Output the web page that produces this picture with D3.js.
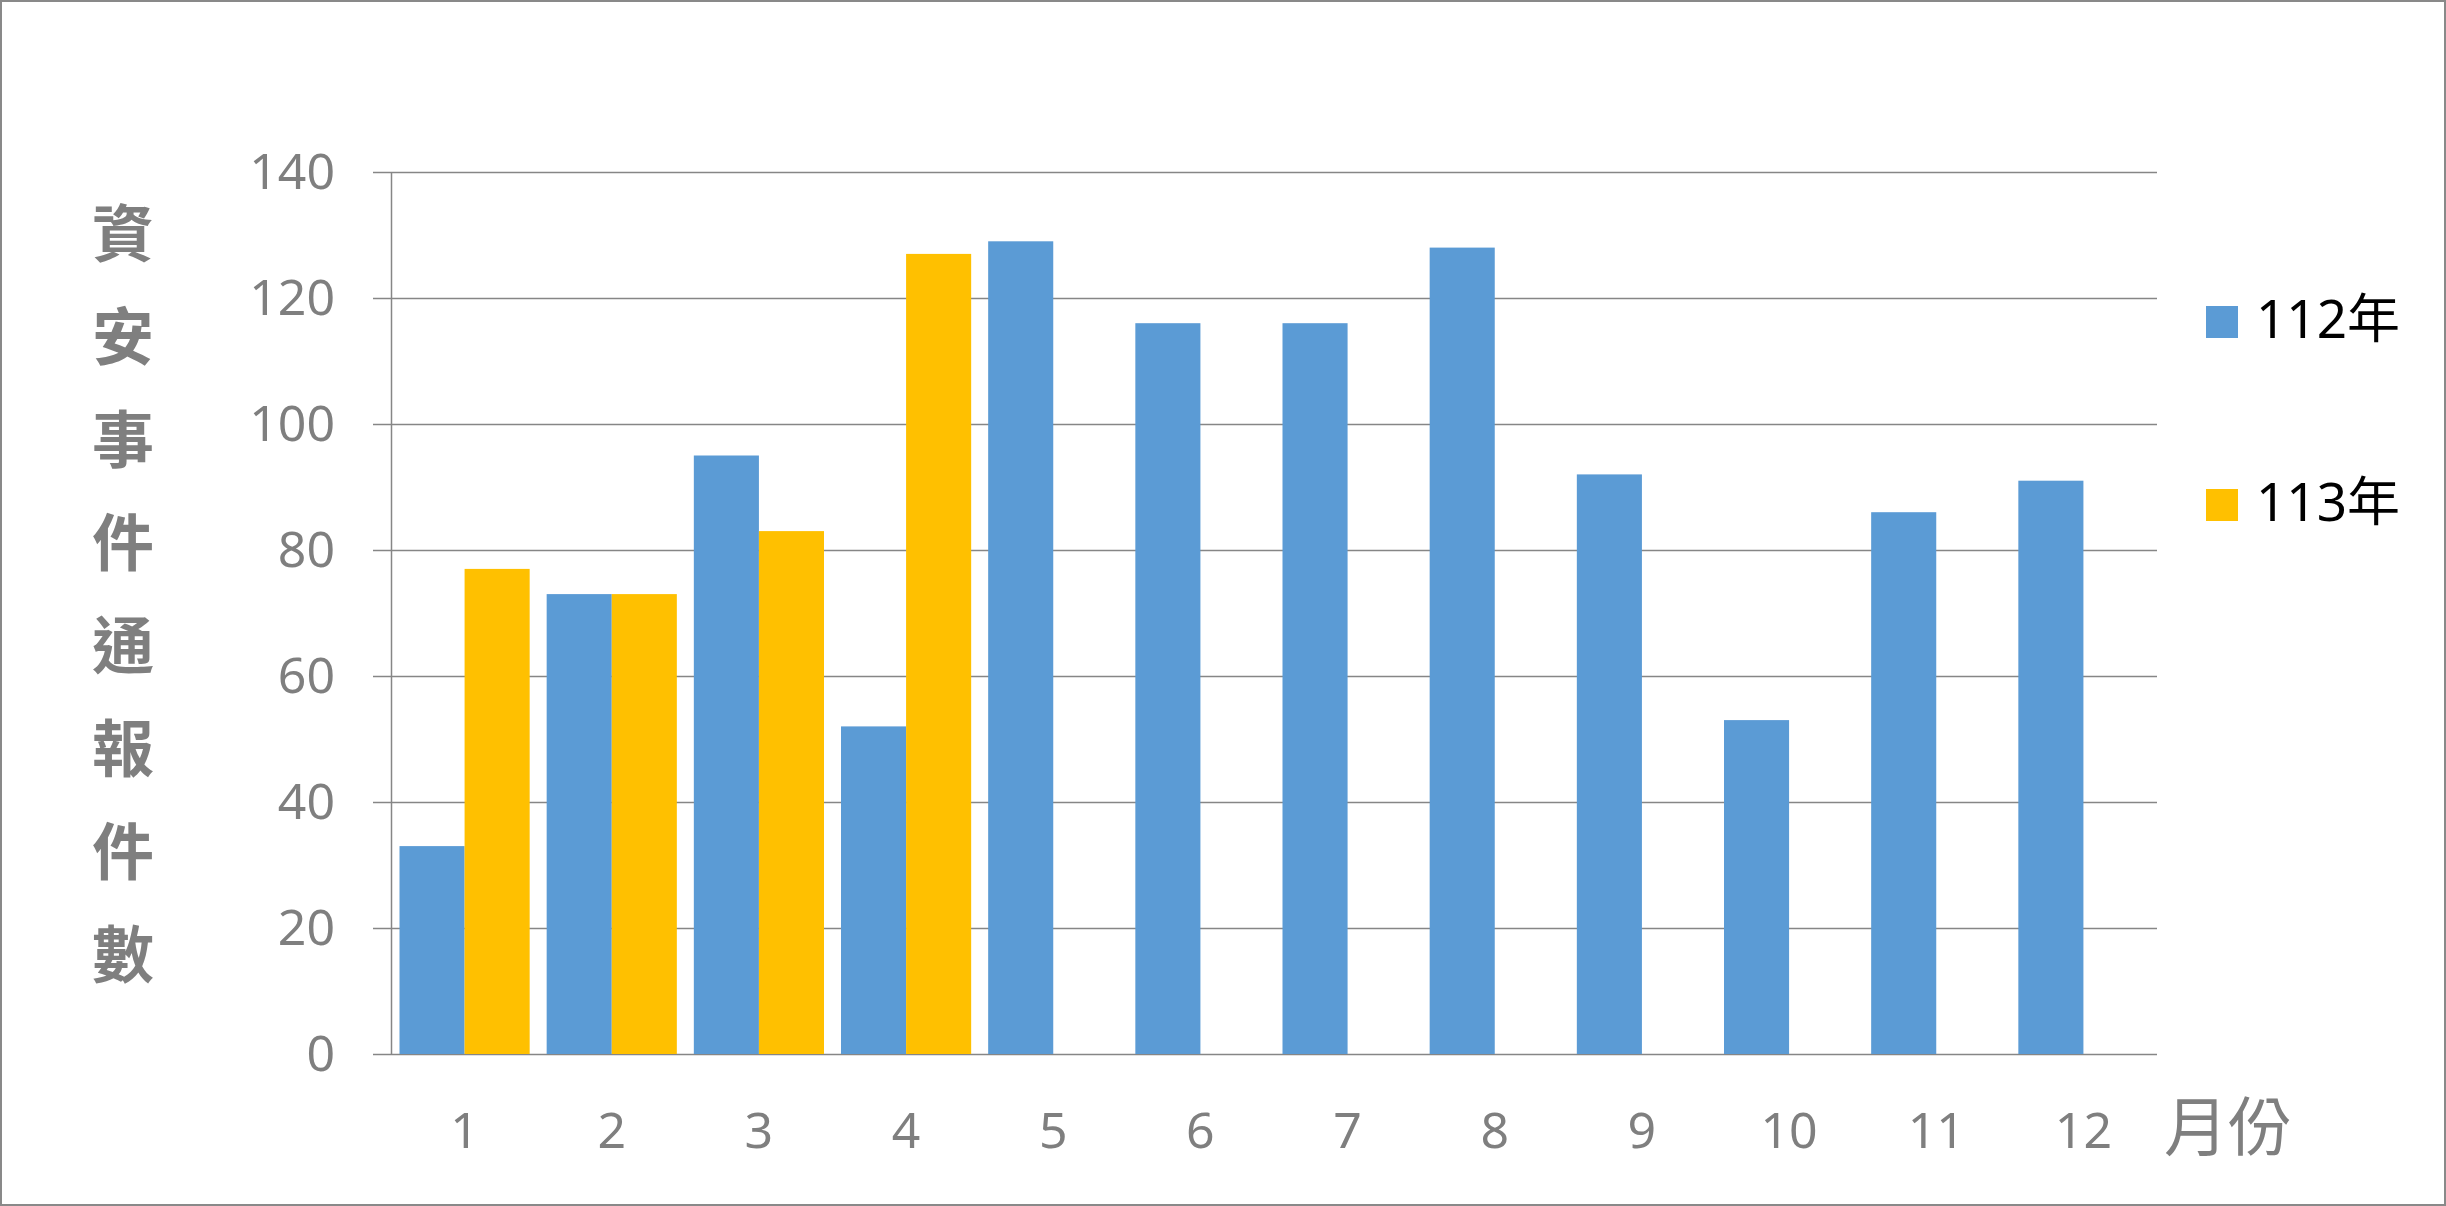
<!DOCTYPE html>
<html>
<head>
<meta charset="utf-8">
<script src="https://cdn.jsdelivr.net/npm/d3@7"></script>
<style>
  html, body { margin: 0; padding: 0; background: #fff; }
  svg { display: block; }
</style>
</head>
<body>
<script>
// ---- data ----
const months = ["1","2","3","4","5","6","7","8","9","10","11","12"];
const seriesNames = ["112年","113年"];
const values112 = [33, 73, 95, 52, 129, 116, 116, 128, 92, 53, 86, 91];
const values113 = [77, 73, 83, 127, null, null, null, null, null, null, null, null];
const yTicks = [0, 20, 40, 60, 80, 100, 120, 140];
const yTitle = "資安事件通報件數";
const xTitle = "月份";
const colors = ["#5B9BD5", "#FFC000"];

(function () {
const W = 2446, H = 1206;
const pLeft = 391, pRight = 2157, pTop = 172, pBottom = 1054;
const gray = "#7F7F7F";
const numFont = "'Noto Sans', 'Liberation Sans', sans-serif";
const cjkFont = "'Noto Sans CJK TC', 'Noto Sans CJK SC', sans-serif";

const svg = d3.select("body").append("svg").attr("width", W).attr("height", H);
svg.append("rect").attr("x", 1).attr("y", 1).attr("width", W - 2).attr("height", H - 2)
  .attr("fill", "#fff").attr("stroke", "#898989").attr("stroke-width", 2);

const y = d3.scaleLinear().domain([0, 140]).range([pBottom, pTop]);
const x0 = d3.scaleBand().domain(months).range([pLeft, pRight]).paddingInner(0.1155).paddingOuter(0.05775);
const x1 = d3.scaleBand().domain(seriesNames).range([0, x0.bandwidth()]);

// gridlines
svg.append("g").selectAll("line").data(yTicks).join("line")
  .attr("x1", pLeft).attr("x2", pRight)
  .attr("y1", d => y(d) + 0.5).attr("y2", d => y(d) + 0.5)
  .attr("stroke", "#868686").attr("stroke-width", 1.5);

// bars
const rows = months.map((m, i) => ({ m, vals: [values112[i], values113[i]] }));
const grp = svg.append("g").selectAll("g").data(rows).join("g")
  .attr("transform", d => `translate(${x0(d.m)},0)`);
grp.selectAll("rect").data(d => d.vals.map((v, j) => ({ v, s: seriesNames[j], j })).filter(e => e.v != null))
  .join("rect")
  .attr("x", e => x1(e.s)).attr("width", x1.bandwidth())
  .attr("y", e => y(e.v)).attr("height", e => y(0) - y(e.v))
  .attr("fill", e => colors[e.j]);

// y axis
const yAxis = svg.append("g").attr("transform", `translate(${pLeft},0)`)
  .call(d3.axisLeft(y).tickValues(yTicks).tickSizeInner(18).tickSizeOuter(0).tickPadding(38));
yAxis.select(".domain").attr("stroke", "#868686").attr("stroke-width", 1.5);
yAxis.selectAll(".tick line").attr("stroke", "#868686").attr("stroke-width", 1.5);
yAxis.selectAll(".tick text").attr("fill", gray).style("font-family", numFont).style("font-size", "50px");

// x axis
const xAxis = svg.append("g").attr("transform", `translate(0,${pBottom})`)
  .call(d3.axisBottom(x0).tickSize(0));
xAxis.select(".domain").remove();
xAxis.selectAll(".tick text").attr("fill", gray).attr("dy", null).attr("y", 94)
  .style("font-family", numFont).style("font-size", "50px");

// y title (vertical stacked characters)
const yt = svg.append("text").attr("text-anchor", "middle").attr("fill", gray)
  .style("font-family", cjkFont).style("font-size", "62px").style("font-weight", "bold");
yt.selectAll("tspan").data(Array.from(yTitle)).join("tspan")
  .attr("x", 123).attr("y", (d, i) => 229.5 + i * 103.1).attr("dominant-baseline", "central")
  .text(d => d);

// x title
svg.append("text").attr("x", 2228).attr("y", 1122).attr("text-anchor", "middle")
  .attr("dominant-baseline", "central").attr("fill", gray)
  .style("font-family", cjkFont).style("font-size", "64px").text(xTitle);

// legend
const legY = [306, 489];
const leg = svg.append("g").selectAll("g").data(seriesNames).join("g");
leg.append("rect").attr("x", 2206).attr("y", (d, i) => legY[i]).attr("width", 32).attr("height", 32)
  .attr("fill", (d, i) => colors[i]);
leg.append("text").attr("x", 2256).attr("y", (d, i) => legY[i] + 32).attr("fill", "#000")
  .style("font-family", "'Noto Sans', 'Noto Sans CJK TC', sans-serif").style("font-size", "53px")
  .text(d => d);
})();
</script>
</body>
</html>
